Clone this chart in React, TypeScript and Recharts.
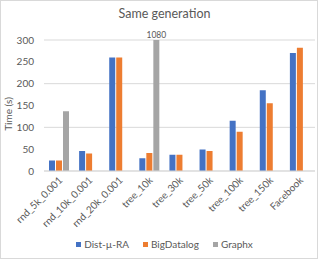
import { BarChart, Bar, XAxis, YAxis, CartesianGrid, LabelList } from "recharts";

const categories = [
  "rnd_5k_0.001",
  "rnd_10k_0.001",
  "rnd_20k_0.001",
  "tree_10k",
  "tree_30k",
  "tree_50k",
  "tree_100k",
  "tree_150k",
  "Facebook",
];
const distMuRA = [24, 46, 260, 29, 37, 49, 115, 185, 270];
const bigDatalog = [24, 40, 260, 41, 37, 46, 90, 155, 282];
const graphx = [137, null, null, 1080, null, null, null, null, null];
const yTicks = [0, 50, 100, 150, 200, 250, 300];
const yMax = 300;

const series = [
  { key: "dist", name: "Dist-\u00b5-RA", color: "#4472C4" },
  { key: "bigDatalog", name: "BigDatalog", color: "#ED7D31" },
  { key: "graphx", name: "Graphx", color: "#A5A5A5" },
];

const data = categories.map((name, i) => ({
  name,
  dist: distMuRA[i],
  bigDatalog: bigDatalog[i],
  graphx: graphx[i],
}));

const FONT = "Lato, 'Open Sans', sans-serif";
const TEXT = "#595959";
const TOP = 40;

function XTick({ x, y, payload }: any) {
  return (
    <text
      x={x + 4}
      y={y + 2}
      transform={`rotate(-45, ${x + 4}, ${y + 2})`}
      textAnchor="end"
      fontSize={10}
      fontFamily={FONT}
      fill={TEXT}
    >
      {payload.value}
    </text>
  );
}

// value label only for the bar that runs off the top of the axis
function OverflowLabel({ x, y, width, value }: any) {
  if (value == null || value <= yMax) return null;
  return (
    <text
      x={x + width / 2}
      y={Math.max(y, TOP) - 2}
      textAnchor="middle"
      fontSize={8.5}
      fontFamily={FONT}
      fill={TEXT}
    >
      {value}
    </text>
  );
}

export default function App() {
  return (
    <div
      style={{
        position: "absolute",
        left: 0,
        top: 0,
        width: 322,
        height: 260,
        background: "#fff",
        fontFamily: FONT,
      }}
    >
      <div
        style={{
          position: "absolute",
          left: 0,
          top: 0,
          width: 318,
          height: 259,
          border: "1px solid #D9D9D9",
          boxSizing: "border-box",
        }}
      />
      <div
        style={{
          position: "absolute",
          left: 0,
          top: 6,
          width: 329,
          textAlign: "center",
          fontSize: 12.5,
          color: TEXT,
        }}
      >
        Same generation
      </div>
      <div
        style={{
          position: "absolute",
          left: 8,
          top: 114,
          fontSize: 10,
          color: TEXT,
          whiteSpace: "nowrap",
          transform: "translate(-50%, -50%) rotate(-90deg)",
        }}
      >
        Time (s)
      </div>

      <BarChart
        width={322}
        height={260}
        data={data}
        margin={{ top: TOP, right: 7, bottom: 0, left: 0 }}
        barSize={6}
        barGap={1}
        style={{ position: "absolute", left: 0, top: 0 }}
      >
        <CartesianGrid vertical={false} stroke="#D9D9D9" />
        <XAxis
          dataKey="name"
          height={89}
          interval={0}
          tickLine={false}
          axisLine={{ stroke: "#D9D9D9" }}
          tick={<XTick />}
        />
        <YAxis
          width={44}
          domain={[0, yMax]}
          ticks={yTicks}
          allowDataOverflow
          tickLine={false}
          axisLine={false}
          tickMargin={4}
          tick={{ fontSize: 10, fill: TEXT, fontFamily: FONT }}
        />
        {series.map((s) => (
          <Bar key={s.key} dataKey={s.key} name={s.name} fill={s.color} isAnimationActive={false}>
            {s.key === "graphx" && <LabelList dataKey="graphx" content={<OverflowLabel />} />}
          </Bar>
        ))}
      </BarChart>

      <div
        style={{
          position: "absolute",
          left: 0,
          top: 238,
          width: 329,
          display: "flex",
          justifyContent: "center",
          gap: 14,
          fontSize: 10,
          color: TEXT,
        }}
      >
        {series.map((s) => (
          <div key={s.key} style={{ display: "flex", alignItems: "center", gap: 3 }}>
            <span style={{ width: 5, height: 5, background: s.color, display: "inline-block" }} />
            <span>{s.name}</span>
          </div>
        ))}
      </div>
    </div>
  );
}
